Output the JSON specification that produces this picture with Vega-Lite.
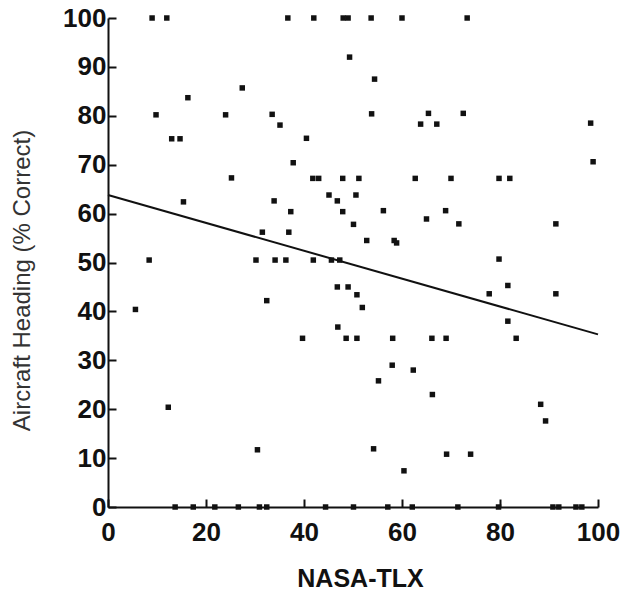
{
  "$schema": "https://vega.github.io/schema/vega-lite/v6.json",
  "width": 490,
  "height": 489,
  "autosize": {"type": "none"},
  "padding": {"left": 108, "top": 18, "right": 23, "bottom": 86},
  "background": "white",
  "config": {
    "view": {"stroke": null},
    "axis": {
      "grid": false,
      "domainColor": "#111",
      "domainWidth": 2,
      "tickColor": "#111",
      "tickWidth": 2,
      "labelFont": "Liberation Sans",
      "labelFontWeight": "bold",
      "labelFontSize": 26,
      "labelColor": "#111",
      "labelFlush": false,
      "titleFont": "Liberation Sans"
    }
  },
  "layer": [
    {
      "data": {
        "values": [
          {"tlx": 9.0, "heading": 100}, {"tlx": 12.0, "heading": 100}, {"tlx": 36.7, "heading": 100},
          {"tlx": 42.0, "heading": 100}, {"tlx": 48.0, "heading": 100}, {"tlx": 49.0, "heading": 100},
          {"tlx": 53.7, "heading": 100}, {"tlx": 60.0, "heading": 100}, {"tlx": 73.3, "heading": 100},
          {"tlx": 49.3, "heading": 92.0}, {"tlx": 54.4, "heading": 87.5}, {"tlx": 27.4, "heading": 85.7},
          {"tlx": 16.3, "heading": 83.7},
          {"tlx": 9.8, "heading": 80.2}, {"tlx": 24.0, "heading": 80.2}, {"tlx": 33.5, "heading": 80.3},
          {"tlx": 53.8, "heading": 80.4}, {"tlx": 65.4, "heading": 80.5}, {"tlx": 72.5, "heading": 80.5},
          {"tlx": 35.1, "heading": 78.1}, {"tlx": 63.8, "heading": 78.3}, {"tlx": 67.1, "heading": 78.3},
          {"tlx": 98.5, "heading": 78.5},
          {"tlx": 13.0, "heading": 75.3}, {"tlx": 14.7, "heading": 75.3}, {"tlx": 40.5, "heading": 75.4},
          {"tlx": 37.8, "heading": 70.4}, {"tlx": 99.0, "heading": 70.6},
          {"tlx": 25.2, "heading": 67.3}, {"tlx": 41.8, "heading": 67.2}, {"tlx": 43.0, "heading": 67.2},
          {"tlx": 47.9, "heading": 67.2}, {"tlx": 51.2, "heading": 67.2}, {"tlx": 62.7, "heading": 67.2},
          {"tlx": 70.0, "heading": 67.2}, {"tlx": 79.8, "heading": 67.2}, {"tlx": 82.0, "heading": 67.2},
          {"tlx": 45.1, "heading": 63.8}, {"tlx": 46.8, "heading": 62.6}, {"tlx": 50.6, "heading": 63.8},
          {"tlx": 33.9, "heading": 62.6}, {"tlx": 15.4, "heading": 62.4},
          {"tlx": 37.3, "heading": 60.4}, {"tlx": 47.9, "heading": 60.4}, {"tlx": 56.2, "heading": 60.6},
          {"tlx": 68.9, "heading": 60.6},
          {"tlx": 50.1, "heading": 57.8}, {"tlx": 65.0, "heading": 58.9}, {"tlx": 71.6, "heading": 57.9},
          {"tlx": 91.4, "heading": 57.9},
          {"tlx": 31.5, "heading": 56.2}, {"tlx": 36.9, "heading": 56.2},
          {"tlx": 52.8, "heading": 54.5}, {"tlx": 58.4, "heading": 54.5}, {"tlx": 58.9, "heading": 54.0},
          {"tlx": 8.4, "heading": 50.5}, {"tlx": 30.2, "heading": 50.5}, {"tlx": 34.1, "heading": 50.5},
          {"tlx": 36.3, "heading": 50.5}, {"tlx": 41.9, "heading": 50.5}, {"tlx": 45.6, "heading": 50.5},
          {"tlx": 47.3, "heading": 50.5}, {"tlx": 79.8, "heading": 50.7},
          {"tlx": 46.8, "heading": 45.0}, {"tlx": 49.0, "heading": 45.0}, {"tlx": 81.6, "heading": 45.3},
          {"tlx": 50.8, "heading": 43.4}, {"tlx": 77.8, "heading": 43.6}, {"tlx": 91.4, "heading": 43.6},
          {"tlx": 32.4, "heading": 42.2}, {"tlx": 51.9, "heading": 40.8}, {"tlx": 5.6, "heading": 40.4},
          {"tlx": 81.6, "heading": 38.0}, {"tlx": 46.9, "heading": 36.8},
          {"tlx": 39.7, "heading": 34.5}, {"tlx": 48.6, "heading": 34.5}, {"tlx": 50.8, "heading": 34.5},
          {"tlx": 58.1, "heading": 34.5}, {"tlx": 66.1, "heading": 34.5}, {"tlx": 69.0, "heading": 34.5},
          {"tlx": 83.3, "heading": 34.5},
          {"tlx": 58.0, "heading": 29.0}, {"tlx": 62.3, "heading": 28.0}, {"tlx": 55.2, "heading": 25.8},
          {"tlx": 66.2, "heading": 23.0}, {"tlx": 88.3, "heading": 21.0}, {"tlx": 12.3, "heading": 20.4},
          {"tlx": 89.3, "heading": 17.6},
          {"tlx": 30.5, "heading": 11.7}, {"tlx": 54.2, "heading": 11.9}, {"tlx": 69.1, "heading": 10.8},
          {"tlx": 74.0, "heading": 10.8}, {"tlx": 60.4, "heading": 7.4},
          {"tlx": 13.7, "heading": 0}, {"tlx": 17.4, "heading": 0}, {"tlx": 21.8, "heading": 0},
          {"tlx": 26.6, "heading": 0}, {"tlx": 30.9, "heading": 0}, {"tlx": 32.4, "heading": 0},
          {"tlx": 44.4, "heading": 0}, {"tlx": 50.1, "heading": 0}, {"tlx": 57.1, "heading": 0},
          {"tlx": 62.1, "heading": 0}, {"tlx": 71.4, "heading": 0}, {"tlx": 79.7, "heading": 0},
          {"tlx": 90.8, "heading": 0}, {"tlx": 92.0, "heading": 0}, {"tlx": 95.5, "heading": 0},
          {"tlx": 96.7, "heading": 0}
        ]
      },
      "mark": {"type": "point", "shape": "square", "filled": true, "size": 30, "color": "#111", "opacity": 1},
      "encoding": {
        "x": {
          "field": "tlx", "type": "quantitative",
          "scale": {"domain": [0, 100], "nice": false},
          "axis": {
            "values": [0, 20, 40, 60, 80, 100],
            "tickSize": -8,
            "labelPadding": 20,
            "title": "NASA-TLX",
            "titleFontSize": 25,
            "titleFontWeight": "bold",
            "titleColor": "#111",
            "titleX": 252,
            "titleY": 71,
            "titleBaseline": "middle",
            "titleAlign": "center"
          }
        },
        "y": {
          "field": "heading", "type": "quantitative",
          "scale": {"domain": [0, 100], "nice": false},
          "axis": {
            "values": [0, 10, 20, 30, 40, 50, 60, 70, 80, 90, 100],
            "tickSize": -8,
            "labelPadding": 10,
            "title": "Aircraft Heading (% Correct)",
            "titleFontSize": 24,
            "titleFontWeight": "normal",
            "titleColor": "#333",
            "titleAngle": -90,
            "titleX": -86,
            "titleY": 262,
            "titleBaseline": "middle",
            "titleAlign": "center"
          }
        }
      }
    },
    {
      "data": {"values": [{"tlx": 0, "heading": 63.8}, {"tlx": 100, "heading": 35.3}]},
      "mark": {"type": "line", "color": "#111", "strokeWidth": 2},
      "encoding": {
        "x": {"field": "tlx", "type": "quantitative"},
        "y": {"field": "heading", "type": "quantitative"}
      }
    }
  ]
}
